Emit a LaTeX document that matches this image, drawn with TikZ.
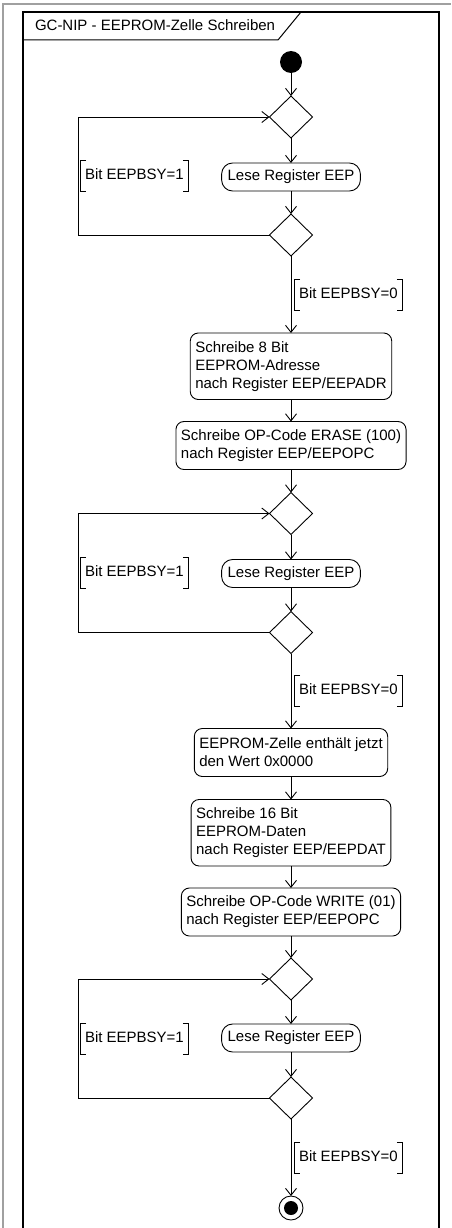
\documentclass[tikz,border=0pt]{standalone}
\usepackage{fontspec}
\setmainfont{Liberation Sans}
\usetikzlibrary{positioning, arrows.meta, shapes.geometric}
\definecolor{framegray}{RGB}{160,160,160}

\begin{document}
\begin{tikzpicture}[
  x=1pt, y=1pt,
  font=\fontsize{15}{18}\selectfont,
  every node/.append style={outer sep=0pt},
  arrow/.style={-{Straight Barb[length=7pt, width=11pt]}, line width=0.9pt},
  act/.style={draw, line width=0.9pt, rounded corners=8pt, align=left,
              inner xsep=5pt, inner ysep=6pt, minimum height=48pt},
  tall/.style={act, minimum height=66.5pt},
  lese/.style={act, rounded corners=11pt, inner xsep=6pt, minimum height=28pt},
  dec/.style={draw, diamond, aspect=1, line width=0.9pt,
              minimum width=43pt, minimum height=42pt, inner sep=0pt},
  guard/.style={inner xsep=5pt, inner ysep=8pt, text height=11pt, text depth=4pt},
]
\useasboundingbox (0,0) rectangle (451,-1228);

% --- Frame with title tab ---
\draw[framegray, line width=1.5pt] (3,-1228) -- (3,-4) -- (451,-4);
\draw[line width=1.2pt] (23,-1228) -- (23,-12) -- (439,-12) -- (439,-1228);
\draw[line width=1pt] (23,-40) -- (278,-40) -- (301,-12);
\node[anchor=base west, inner sep=0pt] (title) at (35,-30.7) {GC-NIP - EEPROM-Zelle Schreiben};

% --- Start and first busy loop ---
\node[circle, fill, minimum size=22pt, inner sep=0pt] (start) at (291,-62) {};
\node[dec, below=23pt of start] (d1) {};
\node[lese, below=25pt of d1] (l1) {Lese Register EEP};
\node[dec, below=23pt of l1] (d2) {};

% --- Address and erase ---
\node[tall, below=77pt of d2] (adr) {Schreibe 8 Bit\\EEPROM-Adresse\\nach Register EEP/EEPADR};
\node[act, below=22pt of adr] (erase) {Schreibe OP-Code ERASE (100)\\nach Register EEP/EEPOPC};

% --- Second busy loop ---
\node[dec, below=23pt of erase] (d3) {};
\node[lese, below=25pt of d3] (l2) {Lese Register EEP};
\node[dec, below=24pt of l2] (d4) {};

% --- Data and write ---
\node[act, below=75pt of d4] (zero) {EEPROM-Zelle enthält jetzt\\den Wert 0x0000};
\node[tall, below=23pt of zero] (dat) {Schreibe 16 Bit\\EEPROM-Daten\\nach Register EEP/EEPDAT};
\node[act, below=22pt of dat] (write) {Schreibe OP-Code WRITE (01)\\nach Register EEP/EEPOPC};

% --- Third busy loop and end ---
\node[dec, below=22pt of write] (d5) {};
\node[lese, below=24pt of d5] (l3) {Lese Register EEP};
\node[dec, below=25pt of l3] (d6) {};
\node[circle, draw, line width=0.9pt, minimum size=24pt, inner sep=0pt, below=77pt of d6] (stop) {};
\fill (stop) circle (7pt);

% --- Forward arrows ---
\draw[arrow] (start) -- (d1);
\draw[arrow] (d1) -- (l1);
\draw[arrow] (l1) -- (d2);
\draw[arrow] (d2) -- node[guard, right=3pt] (g2) {Bit EEPBSY=0} (adr);
\draw[arrow] (adr) -- (erase);
\draw[arrow] (erase) -- (d3);
\draw[arrow] (d3) -- (l2);
\draw[arrow] (l2) -- (d4);
\draw[arrow] (d4) -- node[guard, right=3pt] (g4) {Bit EEPBSY=0} (zero);
\draw[arrow] (zero) -- (dat);
\draw[arrow] (dat) -- (write);
\draw[arrow] (write) -- (d5);
\draw[arrow] (d5) -- (l3);
\draw[arrow] (l3) -- (d6);
\draw[arrow] (d6) -- node[guard, right=3pt] (g6) {Bit EEPBSY=0} (stop);

% --- Loop-back arrows on the left ---
\coordinate (back) at (78,0);
\draw[arrow] (d2.west) -- (d2.west -| back) -- node[guard, right=2pt] (g1) {Bit EEPBSY=1} (d1.west -| back) -- (d1.west);
\draw[arrow] (d4.west) -- (d4.west -| back) -- node[guard, right=2pt] (g3) {Bit EEPBSY=1} (d3.west -| back) -- (d3.west);
\draw[arrow] (d6.west) -- (d6.west -| back) -- node[guard, right=2pt] (g5) {Bit EEPBSY=1} (d5.west -| back) -- (d5.west);

% --- Guard brackets ---
\foreach \g in {g1,g2,g3,g4,g5,g6}
  \draw[line width=0.9pt] ([xshift=6pt]\g.north west) -| (\g.south west) -- ++(6pt,0)
                          ([xshift=-6pt]\g.north east) -| (\g.south east) -- ++(-6pt,0);

\end{tikzpicture}
\end{document}
